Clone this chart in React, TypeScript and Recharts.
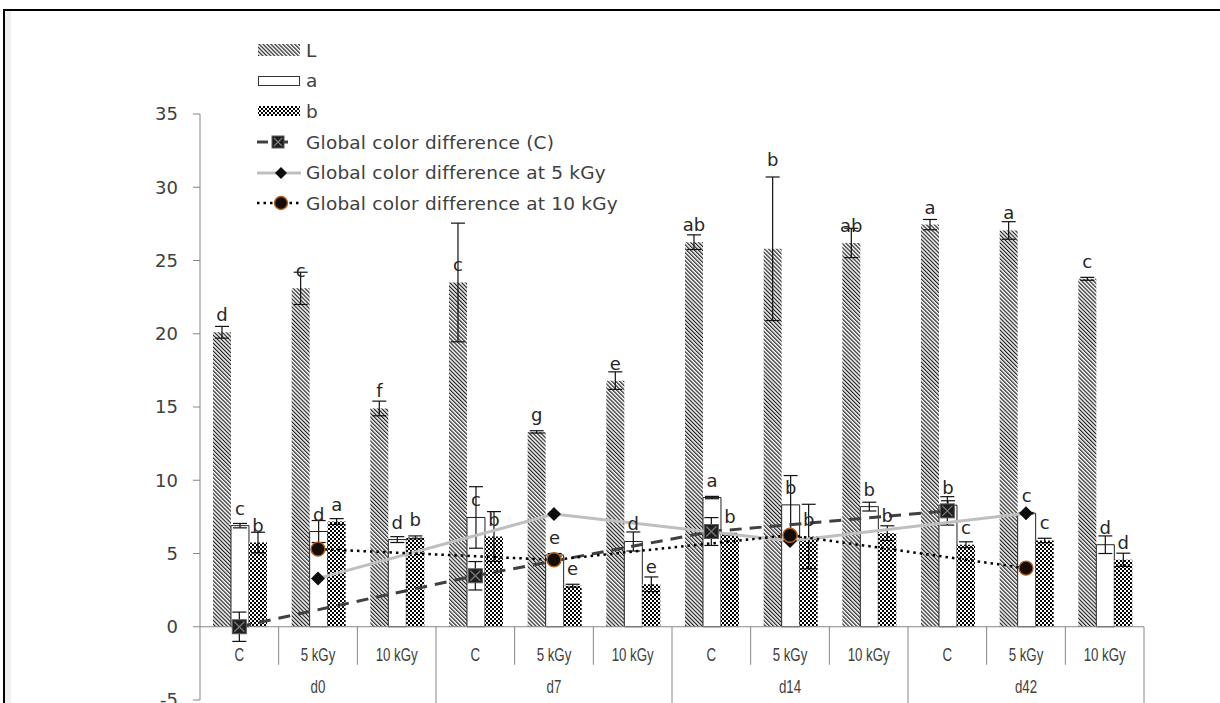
import React from "react";
import {
  ComposedChart,
  Bar,
  Line,
  XAxis,
  YAxis,
  ErrorBar,
  LabelList,
  ReferenceLine,
  Legend,
} from "recharts";

const categories = ["C", "5 kGy", "10 kGy", "C", "5 kGy", "10 kGy", "C", "5 kGy", "10 kGy", "C", "5 kGy", "10 kGy"];
const groups = ["d0", "d7", "d14", "d42"];

const lValues = [20.1, 23.1, 14.9, 23.5, 13.3, 16.8, 26.25, 25.8, 26.2, 27.45, 27.05, 23.75];
const lErrors = [0.4, 1.1, 0.5, 4.05, 0.08, 0.6, 0.5, 4.9, 1.0, 0.35, 0.6, 0.1];
const lLetters = ["d", "c", "f", "c", "g", "e", "ab", "b", "ab", "a", "a", "c"];

const aValues = [6.9, 6.5, 5.95, 7.46, 4.9, 5.82, 8.82, 8.32, 8.2, 8.3, 7.75, 5.6];
const aErrors = [0.15, 0.75, 0.2, 2.1, 0.1, 0.65, 0.08, 2.0, 0.3, 0.3, 0.05, 0.6];
const aLetters = ["c", "d", "d", "c", "e", "d", "a", "b", "b", "b", "c", "d"];

const bValues = [5.75, 7.18, 6.1, 6.16, 2.8, 2.9, 6.32, 6.16, 6.39, 5.6, 5.89, 4.57];
const bErrors = [0.7, 0.2, 0.1, 1.7, 0.1, 0.5, 0.05, 2.2, 0.5, 0.2, 0.15, 0.45];
const bLetters = ["b", "a", "b", "b", "e", "e", "b", "b", "b", "c", "c", "d"];

// global colour difference, one value per day
const globalC = [0, 3.48, 6.5, 7.91];
const globalCErrors = [1.0, 0.97, 0.95, 0.97];
const global5 = [3.3, 7.69, 5.85, 7.75];
const global10 = [5.3, 4.57, 6.25, 4.0];

const yTicks = [-5, 0, 5, 10, 15, 20, 25, 30, 35];
const legendOrder = ["L", "a", "b", "gC", "g5", "g10"];

// layout
const W = 1220;
const H = 703;
const MARGIN = { top: 114, right: 76, bottom: 2, left: 140 };
const PLOT_W = W - MARGIN.left - 60 - MARGIN.right;
const PLOT_H = H - MARGIN.top - MARGIN.bottom - 1;
const CAT_W = PLOT_W / categories.length;
const PX_PER_UNIT = PLOT_H / 40;
const ZERO_Y = MARGIN.top + PX_PER_UNIT * 35;

const SANS = "'DejaVu Sans', Verdana, sans-serif";
const NARROW = "'Liberation Sans', Arial, sans-serif";
const AXIS = "#868686";

const data = categories.map((cat, i) => {
  const day = Math.floor(i / 3);
  return {
    cat,
    L: lValues[i],
    LErr: lErrors[i],
    a: aValues[i],
    aErr: aErrors[i],
    b: bValues[i],
    bErr: bErrors[i],
    gC: i % 3 === 0 ? globalC[day] : null,
    gCErr: i % 3 === 0 ? globalCErrors[day] : undefined,
    g5: i % 3 === 1 ? global5[day] : null,
    g10: i % 3 === 1 ? global10[day] : null,
  };
});

const makeLetter = (letters: string[], errs: number[]) => (props: any) => {
  const { x, y, width, index } = props;
  if (x == null || y == null) return null;
  // letters sit on the bar top, or above the whisker when it is very long
  const top = errs[index] > 4.5 ? y - errs[index] * PX_PER_UNIT : y;
  return (
    <text x={x + width / 2} y={top - 11} textAnchor="middle" fontSize={18} fontFamily={SANS} fill="#262626">
      {letters[index]}
    </text>
  );
};

// condensed looking axis text
const NarrowText = ({ x, y, children }: any) => (
  <text
    transform={`translate(${x},${y}) scale(0.7,1)`}
    textAnchor="middle"
    fontSize={19}
    fontFamily={NARROW}
    fill="#404040"
  >
    {children}
  </text>
);

const CategoryTick = (props: any) => {
  const { x, payload } = props;
  const index = payload?.index ?? props.index;
  const right = x + CAT_W / 2;
  const groupEnd = index % 3 === 2;
  return (
    <g>
      <NarrowText x={x} y={ZERO_Y + 34}>{categories[index]}</NarrowText>
      <line x1={right} x2={right} y1={ZERO_Y} y2={groupEnd ? H : ZERO_Y + 38} stroke={AXIS} strokeWidth={1} />
      {index % 3 === 1 && <NarrowText x={x} y={ZERO_Y + 66}>{groups[Math.floor(index / 3)]}</NarrowText>}
    </g>
  );
};

const SquareDot = (props: any) => {
  const { cx, cy, value } = props;
  if (value == null || cy == null) return <g />;
  const s = 7;
  return (
    <g>
      <rect x={cx - s} y={cy - s} width={s * 2} height={s * 2} fill="#1e1e1e" stroke="#5a5a5a" strokeWidth={1} />
      <path d={`M${cx - s + 2},${cy - s + 2}L${cx + s - 2},${cy + s - 2}M${cx + s - 2},${cy - s + 2}L${cx - s + 2},${cy + s - 2}`} stroke="#7a7a7a" strokeWidth={1.2} />
    </g>
  );
};

const DiamondDot = (props: any) => {
  const { cx, cy, value } = props;
  if (value == null || cy == null) return <g />;
  const r = 7;
  return <path d={`M${cx},${cy - r}L${cx + r},${cy}L${cx},${cy + r}L${cx - r},${cy}Z`} fill="#0d0d0d" />;
};

const CircleDot = (props: any) => {
  const { cx, cy, value } = props;
  if (value == null || cy == null) return <g />;
  return <circle cx={cx} cy={cy} r={7} fill="#160c06" stroke="#b0601e" strokeWidth={1.4} />;
};

const legendIcon = (key: string) => {
  switch (key) {
    case "L":
      return <rect x={1} y={5} width={42} height={12} fill="url(#hatchL)" />;
    case "a":
      return <rect x={1.5} y={6.5} width={41} height={9} fill="#fff" stroke="#333" strokeWidth={1} />;
    case "b":
      return <rect x={1} y={6} width={42} height={10} fill="url(#checkB)" />;
    case "gC":
      return (
        <g>
          <line x1={0} x2={11} y1={11} y2={11} stroke="#404040" strokeWidth={3} />
          <rect x={15} y={5} width={12} height={12} fill="#1e1e1e" stroke="#5a5a5a" />
          <path d="M17,7L25,15M25,7L17,15" stroke="#7a7a7a" strokeWidth={1.2} />
          <line x1={27} x2={31} y1={11} y2={11} stroke="#404040" strokeWidth={3} />
        </g>
      );
    case "g5":
      return (
        <g>
          <line x1={0} x2={44} y1={11} y2={11} stroke="#bfbfbf" strokeWidth={3} />
          <path d="M24,5L30,11L24,17L18,11Z" fill="#0d0d0d" />
        </g>
      );
    default:
      return (
        <g>
          <line x1={0} x2={44} y1={11} y2={11} stroke="#000" strokeWidth={2.5} strokeDasharray="2.5 4" />
          <circle cx={24} cy={11} r={6.5} fill="#160c06" stroke="#b0601e" strokeWidth={1.4} />
        </g>
      );
  }
};

const LegendContent = (props: any) => {
  const payload = [...(props.payload || [])].sort(
    (p: any, q: any) => legendOrder.indexOf(String(p.dataKey)) - legendOrder.indexOf(String(q.dataKey))
  );
  return (
    <div style={{ display: "flex", flexDirection: "column" }}>
      {payload.map((item: any) => (
        <div key={String(item.dataKey)} style={{ display: "flex", alignItems: "center", height: 30.6 }}>
          <svg width={46} height={22} style={{ marginRight: 3 }}>
            {legendIcon(String(item.dataKey))}
          </svg>
          <span style={{ fontFamily: SANS, fontSize: 18.5, letterSpacing: 0.2, color: "#404040", whiteSpace: "nowrap" }}>
            {item.value}
          </span>
        </div>
      ))}
    </div>
  );
};

export default function App() {
  return (
    <div style={{ position: "fixed", left: 0, top: 0, width: W, height: H, background: "#fff", overflow: "hidden" }}>
      <div style={{ position: "absolute", left: 3, top: 9, right: 0, bottom: 0, borderTop: "2px solid #000", borderLeft: "2px solid #000" }} />
      <div style={{ position: "absolute", left: 5, top: 11, width: 6, bottom: 0, background: "#efefef" }} />
      <div style={{ position: "absolute", left: 0, top: 0 }}>
        <ComposedChart width={W} height={H} data={data} margin={MARGIN} barCategoryGap="16.5%" barGap={0}>
          <defs>
            <pattern id="hatchL" patternUnits="userSpaceOnUse" width={2.8} height={2.8} patternTransform="rotate(-45)">
              <rect x={0} y={0} width={2.8} height={2.8} fill="#fff" />
              <rect x={0} y={0} width={1.2} height={2.8} fill="#1e1e1e" />
            </pattern>
            <pattern id="checkB" patternUnits="userSpaceOnUse" width={4} height={4}>
              <rect x={0} y={0} width={4} height={4} fill="#fff" />
              <rect x={0} y={0} width={2} height={2} fill="#000" />
              <rect x={2} y={2} width={2} height={2} fill="#000" />
            </pattern>
          </defs>
          <XAxis
            dataKey="cat"
            height={1}
            interval={0}
            axisLine={false}
            tickLine={false}
            tick={<CategoryTick />}
          />
          <YAxis
            width={60}
            domain={[-5, 35]}
            ticks={yTicks}
            interval={0}
            allowDataOverflow
            stroke={AXIS}
            tickSize={7}
            tickMargin={15}
            tick={{ fontSize: 18, fontFamily: SANS, fill: "#404040" }}
          />
          <ReferenceLine y={0} stroke={AXIS} strokeWidth={1} />
          <Legend
            layout="vertical"
            align="center"
            verticalAlign="middle"
            wrapperStyle={{ left: 257, top: 35, width: 420 }}
            content={<LegendContent />}
          />
          <Bar dataKey="L" name="L" fill="url(#hatchL)" isAnimationActive={false}>
            <ErrorBar dataKey="LErr" width={7} stroke="#111" strokeWidth={1.2} direction="y" />
            <LabelList dataKey="L" content={makeLetter(lLetters, lErrors)} />
          </Bar>
          <Bar dataKey="a" name="a" fill="#fff" stroke="#222" strokeWidth={1} isAnimationActive={false}>
            <ErrorBar dataKey="aErr" width={7} stroke="#111" strokeWidth={1.2} direction="y" />
            <LabelList dataKey="a" content={makeLetter(aLetters, aErrors)} />
          </Bar>
          <Bar dataKey="b" name="b" fill="url(#checkB)" isAnimationActive={false}>
            <ErrorBar dataKey="bErr" width={7} stroke="#111" strokeWidth={1.2} direction="y" />
            <LabelList dataKey="b" content={makeLetter(bLetters, bErrors)} />
          </Bar>
          <Line
            dataKey="gC"
            name="Global color difference (C)"
            stroke="#404040"
            strokeWidth={3}
            strokeDasharray="12 8"
            connectNulls
            dot={<SquareDot />}
            activeDot={false}
            isAnimationActive={false}
          >
            <ErrorBar dataKey="gCErr" width={7} stroke="#111" strokeWidth={1.2} direction="y" />
          </Line>
          <Line
            dataKey="g5"
            name="Global color difference at 5 kGy"
            stroke="#bfbfbf"
            strokeWidth={3}
            connectNulls
            dot={<DiamondDot />}
            activeDot={false}
            isAnimationActive={false}
          />
          <Line
            dataKey="g10"
            name="Global color difference at 10 kGy"
            stroke="#000"
            strokeWidth={2.5}
            strokeDasharray="2.5 4"
            connectNulls
            dot={<CircleDot />}
            activeDot={false}
            isAnimationActive={false}
          />
        </ComposedChart>
      </div>
    </div>
  );
}
